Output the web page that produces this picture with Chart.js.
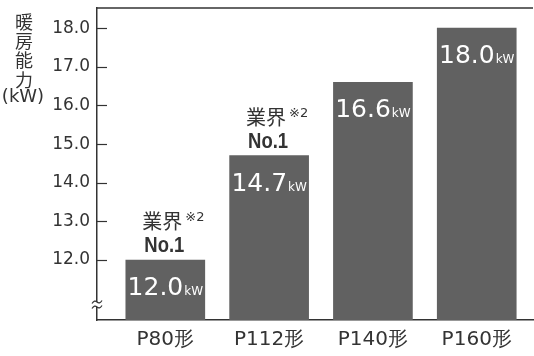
<!DOCTYPE html>
<html>
<head>
<meta charset="utf-8">
<script src="https://cdn.jsdelivr.net/npm/chart.js@4"></script>
<style>
  html, body { margin: 0; padding: 0; background: #fff; }
  canvas { display: block; }
</style>
</head>
<body>
<canvas id="chart" width="534" height="356"></canvas>
<script>
// データ
const categories = ['P80形', 'P112形', 'P140形', 'P160形'];
const capacities = [12.0, 14.7, 16.6, 18.0];
const yTicks = [12, 13, 14, 15, 16, 17, 18];
const topRank = [true, true, false, false];
const axisTitleChars = ['暖', '房', '能', '力'];

const ink = '#333333';
const barColor = '#616161';
const numFont = '"DejaVu Sans", "Liberation Sans", sans-serif';
const jpFont = '"Noto Sans CJK JP", sans-serif';

// 枠線・目盛り・波線・縦タイトル
const framePlugin = {
  id: 'frame',
  afterDraw(chart) {
    const { ctx, chartArea: a, scales: { y } } = chart;
    ctx.save();
    ctx.strokeStyle = ink;
    ctx.lineWidth = 1.5;
    // 上の線
    ctx.beginPath();
    ctx.moveTo(a.left, a.top);
    ctx.lineTo(a.right, a.top);
    ctx.stroke();
    // 内向きの目盛り
    ctx.lineWidth = 1.2;
    yTicks.forEach(v => {
      const py = Math.round(y.getPixelForValue(v)) + 0.5;
      ctx.beginPath();
      ctx.moveTo(a.left, py);
      ctx.lineTo(a.left + 10, py);
      ctx.stroke();
    });
    // 省略記号
    const bx = a.left;
    const by = a.bottom - 16;
    ctx.fillStyle = '#fff';
    ctx.fillRect(bx - 2, by - 2, 4, 5);
    ctx.lineWidth = 1.2;
    [by - 2, by + 3].forEach(yy => {
      ctx.beginPath();
      ctx.moveTo(bx - 5, yy + 1.5);
      ctx.quadraticCurveTo(bx - 2.5, yy - 2.5, bx, yy);
      ctx.quadraticCurveTo(bx + 2.5, yy + 2.5, bx + 5, yy - 1.5);
      ctx.stroke();
    });
    // 縦タイトル
    ctx.fillStyle = ink;
    ctx.textAlign = 'center';
    ctx.textBaseline = 'middle';
    ctx.font = '18px ' + jpFont;
    axisTitleChars.forEach((c, i) => ctx.fillText(c, 24, 22 + i * 19.3));
    ctx.font = '18px ' + numFont;
    ctx.fillText('(kW)', 23, 97);
    ctx.restore();
  },
  afterDatasetsDraw(chart) {
    const { ctx } = chart;
    const meta = chart.getDatasetMeta(0);
    ctx.save();
    meta.data.forEach((bar, i) => {
      const cx = bar.x;
      const top = bar.y;
      // 値ラベル
      const num = capacities[i].toFixed(1);
      ctx.font = '25px ' + numFont;
      const wNum = ctx.measureText(num).width;
      ctx.font = '12px ' + numFont;
      const wUnit = ctx.measureText('kW').width;
      const start = cx - (wNum + wUnit + 1) / 2;
      ctx.fillStyle = '#fff';
      ctx.textAlign = 'left';
      ctx.textBaseline = 'alphabetic';
      ctx.font = '25px ' + numFont;
      ctx.fillText(num, start, top + 35);
      ctx.font = '12px ' + numFont;
      ctx.fillText('kW', start + wNum + 1, top + 35);
      // 業界No.1
      if (topRank[i]) {
        ctx.fillStyle = ink;
        ctx.textAlign = 'center';
        ctx.save();
        ctx.translate(cx - 1, top - 8);
        ctx.scale(0.84, 1);
        ctx.font = 'bold 22px "Liberation Sans", sans-serif';
        ctx.fillText('No.1', 0, 0);
        ctx.restore();
        ctx.font = '20px ' + jpFont;
        ctx.fillText('業界', cx - 3, top - 31);
        const wJ = ctx.measureText('業界').width;
        ctx.textAlign = 'left';
        ctx.font = '13px ' + numFont;
        ctx.fillText('※2', cx - 3 + wJ / 2 + 3, top - 39);
      }
    });
    ctx.restore();
  }
};

new Chart(document.getElementById('chart'), {
  type: 'bar',
  data: {
    datasets: [{
      data: capacities.map((v, i) => ({ x: i, y: v })),
      backgroundColor: barColor,
      barThickness: 79
    }]
  },
  options: {
    responsive: false,
    animation: false,
    layout: { padding: { top: 8, right: 1, left: 0, bottom: 0 } },
    plugins: { legend: { display: false }, tooltip: { enabled: false } },
    scales: {
      x: {
        type: 'linear',
        offset: false,
        min: -0.658,
        max: 3.542,
        afterBuildTicks: s => { s.ticks = categories.map((c, i) => ({ value: i })); },
        afterFit: s => { s.height = 36; s.paddingLeft = 0; s.paddingRight = 0; },
        grid: { offset: false, drawOnChartArea: false, drawTicks: false },
        border: { color: ink, width: 1.5 },
        ticks: {
          padding: 8,
          color: ink,
          font: { family: numFont, size: 20 },
          callback: v => categories[v]
        }
      },
      y: {
        min: 10.45,
        max: 18.52,
        afterBuildTicks: s => { s.ticks = yTicks.map(v => ({ value: v })); },
        afterFit: s => { s.width = 97; s.paddingTop = 0; s.paddingBottom = 0; },
        grid: { drawOnChartArea: false, drawTicks: false },
        border: { color: ink, width: 1.5 },
        ticks: {
          padding: 7,
          color: ink,
          font: { family: numFont, size: 17 },
          callback: v => v.toFixed(1)
        }
      }
    }
  },
  plugins: [framePlugin]
});
</script>
</body>
</html>
